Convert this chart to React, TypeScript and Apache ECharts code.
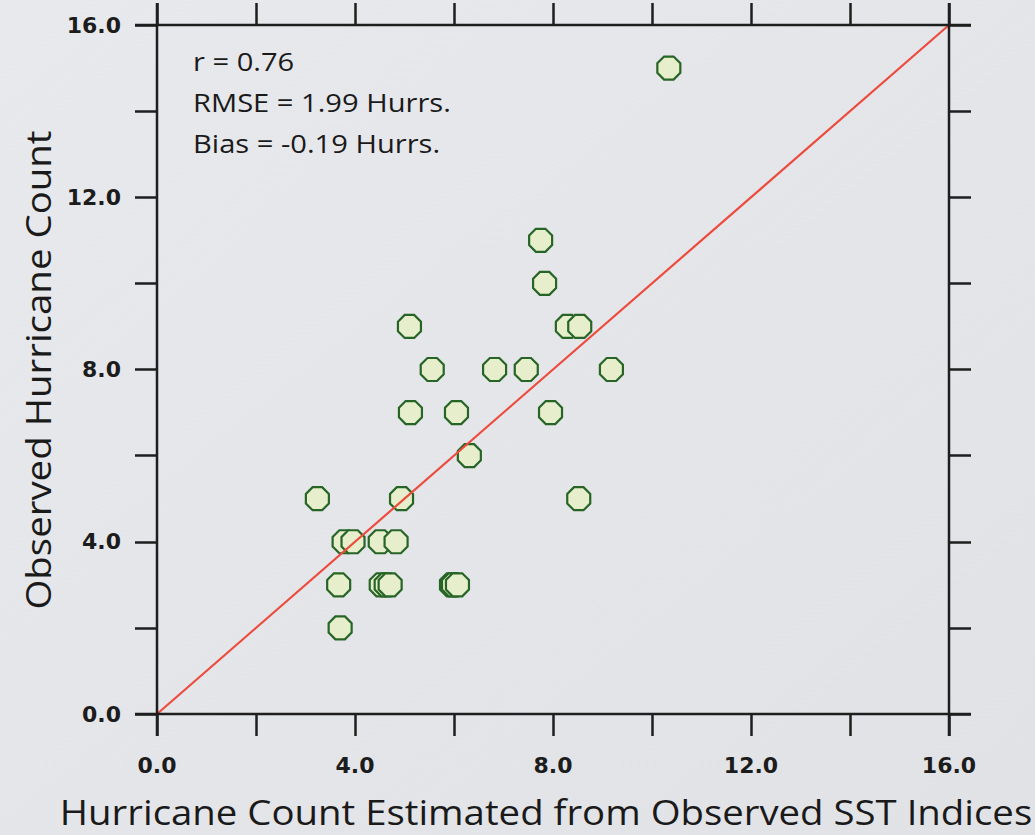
import React, { useEffect, useRef } from "react";
import * as echarts from "echarts";

const estimatedCounts = [
  10.34, 7.75, 7.83, 5.1, 8.29, 8.54, 5.56, 6.82, 7.46, 9.18, 5.12, 6.05, 7.95,
  6.31, 3.24, 4.94, 8.52, 3.78, 3.96, 4.51, 4.83, 3.67, 4.53, 4.63, 4.71, 5.95,
  5.99, 6.07, 3.7,
];
const observedCounts = [
  15, 11, 10, 9, 9, 9, 8, 8, 8, 8, 7, 7, 7, 6, 5, 5, 5, 4, 4, 4, 4, 3, 3, 3, 3,
  3, 3, 3, 2,
];
const oneToOneLine = [
  [0, 0],
  [16, 16],
];
const statsLines = ["r = 0.76", "RMSE = 1.99 Hurrs.", "Bias = -0.19 Hurrs."];
const xTitle = "Hurricane Count Estimated from Observed SST Indices";
const yTitle = "Observed Hurricane Count";

const OCTAGON =
  "path://M-0.414,-1L0.414,-1L1,-0.414L1,0.414L0.414,1L-0.414,1L-1,0.414L-1,-0.414Z";

const GRID = { left: 157, top: 25, right: 86, bottom: 121 };
const W = 1035;
const H = 835;

export default function App() {
  const ref = useRef<HTMLDivElement>(null);
  useEffect(() => {
    if (!ref.current) return;
    const chart = echarts.init(ref.current, undefined, { renderer: "svg" });
    const gl = GRID.left;
    const gr = W - GRID.right;
    const gt = GRID.top;
    const gb = H - GRID.bottom;
    const ext = 22;
    const axisColor = "#1e1e1e";
    const lw = 2.5;
    const fmt = (v: number) => (v % 4 === 0 ? v.toFixed(1) : "");
    const tickStyle = { show: true, inside: false, length: ext, lineStyle: { color: axisColor, width: lw } };
    const hiddenLine = { show: false, onZero: false };
    const labelStyle = {
      fontFamily: "DejaVu Sans",
      fontSize: 22,
      fontWeight: "bold",
      color: "#1c1c1c",
      formatter: fmt,
    };
    const data = estimatedCounts.map((x, i) => [x, observedCounts[i]]);
    const option: any = {
      animation: false,
      backgroundColor: {
        type: "linear",
        x: 0,
        y: 0,
        x2: 1,
        y2: 1,
        colorStops: [
          { offset: 0, color: "#e8e9ec" },
          { offset: 1, color: "#e1e2e6" },
        ],
      },
      grid: { ...GRID },
      xAxis: [
        {
          type: "value",
          min: 0,
          max: 16,
          interval: 2,
          position: "bottom",
          axisLine: hiddenLine,
          axisTick: tickStyle,
          splitLine: { show: false },
          axisLabel: { ...labelStyle, margin: 40 },
        },
        {
          type: "value",
          min: 0,
          max: 16,
          interval: 2,
          position: "top",
          axisLine: hiddenLine,
          axisTick: tickStyle,
          splitLine: { show: false },
          axisLabel: { show: false },
        },
      ],
      yAxis: [
        {
          type: "value",
          min: 0,
          max: 16,
          interval: 2,
          position: "left",
          axisLine: hiddenLine,
          axisTick: tickStyle,
          splitLine: { show: false },
          axisLabel: { ...labelStyle, margin: 36 },
        },
        {
          type: "value",
          min: 0,
          max: 16,
          interval: 2,
          position: "right",
          axisLine: hiddenLine,
          axisTick: tickStyle,
          splitLine: { show: false },
          axisLabel: { show: false },
        },
      ],
      series: [
        {
          type: "scatter",
          data,
          symbol: OCTAGON,
          symbolSize: 23,
          itemStyle: {
            color: "#e6eecb",
            borderColor: "#276527",
            borderWidth: 2.2,
            opacity: 1,
          },
          z: 3,
        },
        {
          type: "line",
          data: oneToOneLine,
          symbol: "none",
          lineStyle: { color: "#ec4b3e", width: 2.2 },
          z: 4,
        },
      ],
      graphic: [
        { type: "line", shape: { x1: gl - ext, y1: gt, x2: gr + ext, y2: gt }, style: { stroke: axisColor, lineWidth: lw }, z: 10 },
        { type: "line", shape: { x1: gl - ext, y1: gb, x2: gr + ext, y2: gb }, style: { stroke: axisColor, lineWidth: lw }, z: 10 },
        { type: "line", shape: { x1: gl, y1: gt - ext, x2: gl, y2: gb + ext }, style: { stroke: axisColor, lineWidth: lw }, z: 10 },
        { type: "line", shape: { x1: gr, y1: gt - ext, x2: gr, y2: gb + ext }, style: { stroke: axisColor, lineWidth: lw }, z: 10 },
        ...statsLines.map((t, i) => ({
          type: "text",
          x: 193,
          y: 61 + i * 41,
          scaleX: 1.12,
          style: {
            text: t,
            fontFamily: "Open Sans",
            fontSize: 26,
            fill: "#1a1a1a",
            textAlign: "left",
            textVerticalAlign: "middle",
          },
          z: 10,
        })),
        {
          type: "text",
          x: 546,
          y: 812,
          scaleX: 1.128,
          style: {
            text: xTitle,
            fontFamily: "Open Sans",
            fontSize: 34,
            fill: "#1a1a1a",
            textAlign: "center",
            textVerticalAlign: "middle",
          },
          z: 10,
        },
        {
          type: "text",
          x: 38,
          y: 370,
          rotation: Math.PI / 2,
          scaleX: 1.13,
          style: {
            text: yTitle,
            fontFamily: "Open Sans",
            fontSize: 34,
            fill: "#1a1a1a",
            textAlign: "center",
            textVerticalAlign: "middle",
          },
          z: 10,
        },
      ],
    };
    chart.setOption(option);
    return () => chart.dispose();
  }, []);
  return (
    <div
      ref={ref}
      style={{ position: "absolute", left: 0, top: 0, width: W, height: H }}
    />
  );
}
